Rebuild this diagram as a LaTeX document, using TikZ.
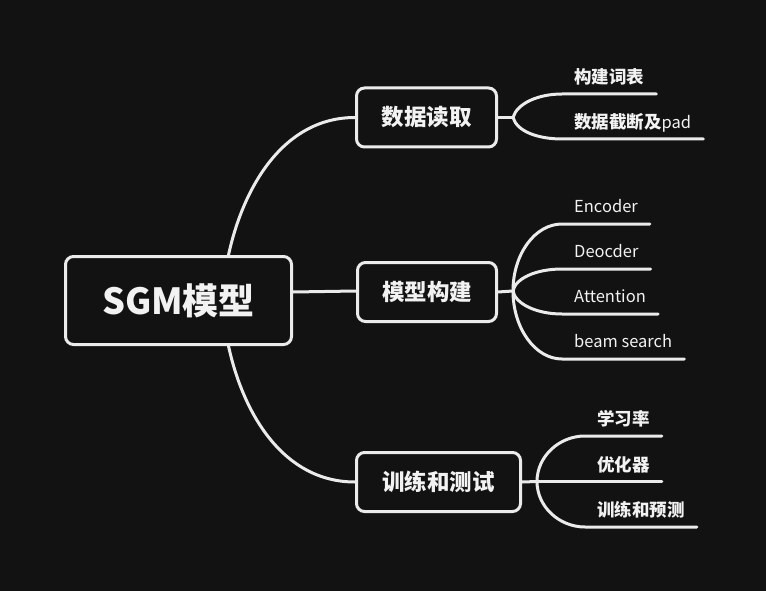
\documentclass[tikz,border=0pt]{standalone}
\usepackage{fontspec}
\setmainfont{Noto Sans CJK SC}
\definecolor{bgc}{HTML}{121212}
\definecolor{linec}{HTML}{EBEBEB}
\definecolor{txtc}{HTML}{F2F2F2}
\tikzset{
  conn/.style={draw=linec, line width=3pt, line cap=round},
  box/.style={draw=linec, fill=bgc, line width=3pt, rounded corners=8pt, text=txtc,
    inner sep=0pt, minimum height=59pt, font=\bfseries\fontsize{22.5}{26}\selectfont},
  rootbox/.style={box, minimum width=226pt, minimum height=88pt, font=\bfseries\fontsize{36}{40}\selectfont},
  leaf/.style={text=txtc, inner xsep=12pt, inner ysep=0pt, text height=14pt, text depth=11.5pt,
    anchor=south west, font=\fontsize{16.5}{18}\selectfont},
  cjk/.style={font=\bfseries\fontsize{17.5}{20}\selectfont, text depth=10pt},
}
\begin{document}
\begin{tikzpicture}[x=1pt,y=-1pt]
\fill[bgc] (0,0) rectangle (766,591);
\useasboundingbox (0,0) rectangle (766,591);

% main nodes
\node[rootbox] (root) at (178.5,300.5) {SGM模型};
\node[box, minimum width=140pt] (b1) at (426.5,117.5) {数据读取};
\node[box, minimum width=139pt] (b2) at (427,292) {模型构建};
\node[box, minimum width=164pt] (b3) at (438.5,482) {训练和测试};

% root connectors
\draw[conn] ([xshift=50pt]root.north) .. controls +(15,-69) and +(-71,0) .. (b1.west);
\draw[conn] ([yshift=8.5pt]root.east) -- ([yshift=1pt]b2.west);
\draw[conn] ([xshift=50pt]root.south) .. controls +(15,69) and +(-71,0) .. (b3.west);

% branch 1 leaves
\coordinate (f1) at (513,117.5);
\node[leaf, cjk] (l11) at (562,94) {构建词表};
\node[leaf, cjk] (l12) at (562,139) {数据截断及\mdseries\fontsize{16.5}{18}\selectfont pad};
\draw[conn] (b1.east) -- (f1);
\draw[conn] (f1) .. controls +(4,-14) and +(-24,0) .. (l11.south west) -- (l11.south east);
\draw[conn] (f1) .. controls +(4,14) and +(-24,0) .. (l12.south west) -- (l12.south east);

% branch 2 leaves
\coordinate (f2) at (513,291);
\node[leaf] (l21) at (562,224) {Encoder};
\node[leaf] (l22) at (562,269) {Deocder};
\node[leaf] (l23) at (562,314) {Attention};
\node[leaf] (l24) at (562,359) {beam search};
\draw[conn] (b2.east) -- (f2);
\draw[conn] (f2) .. controls +(0,-37) and +(-27,0) .. (l21.south west) -- (l21.south east);
\draw[conn] (f2) .. controls +(2,-12) and +(-27,0) .. (l22.south west) -- (l22.south east);
\draw[conn] (f2) .. controls +(2,12) and +(-27,0) .. (l23.south west) -- (l23.south east);
\draw[conn] (f2) .. controls +(0,37) and +(-27,0) .. (l24.south west) -- (l24.south east);

% branch 3 leaves
\coordinate (f3) at (537,481.5);
\node[leaf, cjk] (l31) at (585,436) {学习率};
\node[leaf, cjk] (l32) at (585,481.5) {优化器};
\node[leaf, cjk] (l33) at (585,527) {训练和预测};
\draw[conn] (b3.east) -- (f3);
\draw[conn] (f3) .. controls +(0,-25) and +(-26,0) .. (l31.south west) -- (l31.south east);
\draw[conn] (f3) -- (l32.south west) -- (l32.south east);
\draw[conn] (f3) .. controls +(0,25) and +(-26,0) .. (l33.south west) -- (l33.south east);
\end{tikzpicture}
\end{document}
